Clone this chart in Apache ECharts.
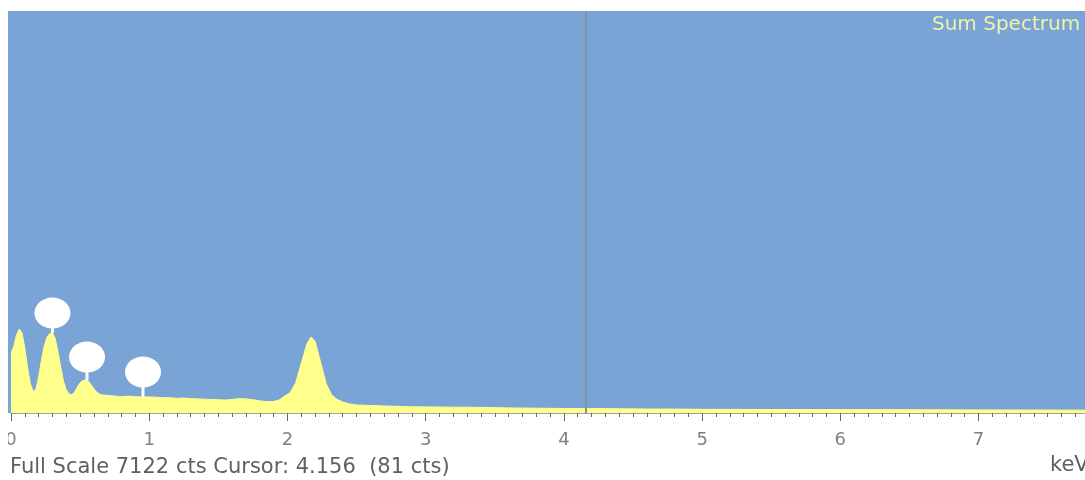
<!DOCTYPE html>
<html>
<head>
<meta charset="utf-8">
<script src="https://cdn.jsdelivr.net/npm/echarts@6/dist/echarts.min.js"></script>
<style>
  html, body { margin: 0; padding: 0; background: #fff; }
  #spectrum { width: 1085px; height: 480px; }
</style>
</head>
<body>
<div id="spectrum"></div>
<script>
// energy (keV) and counts
var energy = [0.00, 0.02, 0.04, 0.06, 0.08, 0.10, 0.12, 0.14, 0.16, 0.18,
    0.20, 0.22, 0.24, 0.26, 0.28, 0.30, 0.32, 0.34, 0.36, 0.38,
    0.40, 0.42, 0.44, 0.46, 0.48, 0.50, 0.52, 0.54, 0.56, 0.58,
    0.60, 0.62, 0.64, 0.66, 0.70, 0.75, 0.80, 0.85, 0.90, 0.95,
    1.00, 1.05, 1.10, 1.15, 1.20, 1.25, 1.30, 1.35, 1.40, 1.45,
    1.50, 1.55, 1.60, 1.65, 1.70, 1.75, 1.80, 1.85, 1.90, 1.94,
    1.98, 2.02, 2.06, 2.10, 2.14, 2.17, 2.20, 2.24, 2.28, 2.32,
    2.36, 2.40, 2.45, 2.50, 2.60, 2.70, 2.80, 2.90, 3.00, 3.20,
    3.40, 3.50, 3.60, 3.80, 4.00, 4.20, 4.40, 4.60, 4.80, 5.00,
    5.50, 6.00, 6.50, 7.00, 7.50, 7.77];
var counts = [1060, 1180, 1380, 1488, 1420, 1150, 800, 520, 380, 420,
    640, 930, 1180, 1340, 1405, 1418, 1320, 1080, 810, 560,
    410, 335, 325, 370, 460, 535, 575, 585, 565, 500,
    430, 370, 335, 320, 310, 300, 290, 300, 290, 285,
    285, 280, 270, 270, 260, 265, 255, 250, 245, 240,
    235, 230, 240, 255, 250, 235, 215, 200, 205, 230,
    300, 360, 540, 880, 1220, 1347, 1270, 900, 520, 320,
    240, 195, 160, 142, 135, 125, 118, 110, 108, 104,
    100, 95, 90, 85, 80, 80, 75, 70, 70, 65,
    62, 60, 58, 55, 52, 50];

// peak markers: position, peak top, marker head
var markerKeV = [0.30, 0.55, 0.955];
var markerPeak = [1418, 585, 285];
var markerHead = [1772, 992, 726];

var fullScale = 7122;
var cursorKeV = 4.156;
var cursorCounts = 81;
var keVMax = 7.77;

var blue = '#7ba4d6';
var yellow = '#ffff8c';

var chart = echarts.init(document.getElementById('spectrum'));

var specData = energy.map(function (e, i) { return [e, counts[i]]; });
var stemData = markerKeV.map(function (e, i) { return [e, markerPeak[i], markerHead[i]]; });
var headData = markerKeV.map(function (e, i) { return [e, markerHead[i]]; });

chart.setOption({
    animation: false,
    grid: {
        left: 11,
        right: 0,
        top: 11,
        bottom: 67,
        show: true,
        backgroundColor: blue,
        borderWidth: 0
    },
    xAxis: {
        type: 'value',
        min: 0,
        max: keVMax,
        interval: 1,
        splitLine: { show: false },
        axisLine: { lineStyle: { color: '#a0a0a0', width: 1 } },
        axisTick: { length: 8, lineStyle: { color: '#666' } },
        minorTick: { show: true, splitNumber: 10, length: 4, lineStyle: { color: '#666' } },
        axisLabel: {
            showMaxLabel: false,
            margin: 18,
            color: '#808080',
            fontFamily: 'DejaVu Sans',
            fontSize: 18
        }
    },
    yAxis: {
        type: 'value',
        min: 0,
        max: fullScale,
        show: false
    },
    graphic: [
        { type: 'rect', shape: { x: 8, y: 11, width: 3, height: 402 }, style: { fill: blue }, z: 0 },
        { type: 'rect', shape: { x: 0, y: 425, width: 8, height: 30 }, style: { fill: '#fff' }, z: 100 },
        {
            type: 'text', x: 932, y: 25,
            style: { text: 'Sum Spectrum', font: '20px "DejaVu Sans"', fill: '#f0f2a8', verticalAlign: 'middle' },
            z: 100
        },
        {
            type: 'text', x: 10, y: 468,
            style: {
                text: 'Full Scale ' + fullScale + ' cts Cursor: ' + cursorKeV + '  (' + cursorCounts + ' cts)',
                font: '21px "DejaVu Sans"', fill: '#606060', verticalAlign: 'middle'
            },
            z: 100
        },
        {
            type: 'text', x: 1050, y: 466,
            style: { text: 'keV', font: '21px "DejaVu Sans"', fill: '#606060', verticalAlign: 'middle' },
            z: 100
        }
    ],
    series: [
        {
            type: 'line',
            data: specData,
            showSymbol: false,
            lineStyle: { color: yellow, width: 1 },
            areaStyle: { color: yellow, opacity: 1 },
            markLine: {
                silent: true,
                symbol: 'none',
                label: { show: false },
                lineStyle: { color: '#8292a6', width: 2, type: 'solid' },
                data: [{ xAxis: cursorKeV }]
            },
            z: 2
        },
        {
            type: 'custom',
            data: stemData,
            renderItem: function (params, api) {
                var top = api.coord([api.value(0), api.value(2)]);
                var bottom = api.coord([api.value(0), api.value(1)]);
                return {
                    type: 'line',
                    shape: { x1: top[0], y1: top[1], x2: bottom[0], y2: bottom[1] },
                    style: { stroke: '#fff', lineWidth: 3 }
                };
            },
            z: 3
        },
        {
            type: 'scatter',
            data: headData,
            symbol: 'circle',
            symbolSize: [36, 31],
            itemStyle: { color: '#fff', opacity: 1 },
            z: 4
        }
    ]
});
</script>
</body>
</html>
